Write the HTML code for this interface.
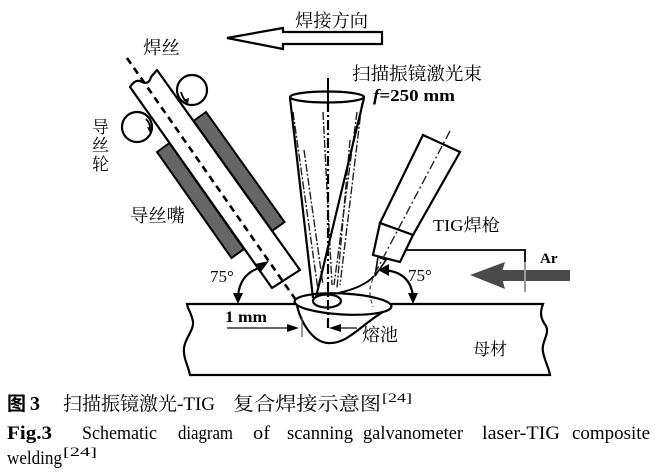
<!DOCTYPE html>
<html><head><meta charset="utf-8">
<style>
html,body{margin:0;padding:0;background:#fff;}
svg{display:block;}
</style></head>
<body>
<svg width="661" height="473" viewBox="0 0 661 473" xmlns="http://www.w3.org/2000/svg">
<rect x="0" y="0" width="661" height="473" fill="#fff"/>

<!-- welding direction arrow -->
<polygon points="227,38 283,28 283,32 382,32 382,44 283,44 283,49" fill="#fff" stroke="#000" stroke-width="2.2" stroke-linejoin="miter"/>
<text x="295" y="27" font-family="'Noto Serif CJK SC',serif" font-size="18" textLength="73" lengthAdjust="spacingAndGlyphs" fill="#000">焊接方向</text>

<!-- labels left -->
<text x="143" y="54" font-family="'Noto Serif CJK SC',serif" font-size="18" textLength="37" lengthAdjust="spacingAndGlyphs" fill="#000">焊丝</text>
<text x="92" y="133" font-family="'Noto Serif CJK SC',serif" font-size="17" fill="#000">导</text>
<text x="92" y="151" font-family="'Noto Serif CJK SC',serif" font-size="17" fill="#000">丝</text>
<text x="92" y="170" font-family="'Noto Serif CJK SC',serif" font-size="17" fill="#000">轮</text>
<text x="130" y="222" font-family="'Noto Serif CJK SC',serif" font-size="18" textLength="55" lengthAdjust="spacingAndGlyphs" fill="#000">导丝嘴</text>

<!-- grey nozzle blocks -->
<polygon points="157,152 169.5,143 244,249 231.5,258" fill="#666" stroke="#000" stroke-width="2"/>
<polygon points="193.5,121 206,112 284.5,222 272,231" fill="#666" stroke="#000" stroke-width="2"/>

<!-- wire tube -->
<path d="M130,87 Q136,78 142,82 Q149,85 151,77 L157,70 L300,270 L272,288 Z" fill="#fff" stroke="#000" stroke-width="2.2" stroke-linejoin="round"/>
<line x1="127" y1="58" x2="298" y2="303" stroke="#000" stroke-width="2.6" stroke-dasharray="7,5"/>

<!-- rollers -->
<circle cx="192" cy="90" r="15" fill="none" stroke="#000" stroke-width="2.2"/>
<circle cx="137" cy="127" r="15" fill="none" stroke="#000" stroke-width="2.2"/>
<path d="M181,92 Q183,99 187,102" fill="none" stroke="#000" stroke-width="1.8"/>
<polygon points="188,104 183,100 189,98" fill="#000"/>
<path d="M146,119 Q151,124 150,131" fill="none" stroke="#000" stroke-width="1.8"/>
<polygon points="150,133 147,127 153,128" fill="#000"/>

<!-- workpiece -->
<path d="M187,304 L543,304 C540,312 540,318 546,326 C550,334 541,342 543,352 C545,362 549,368 550,375 L190,375 C188,365 183,358 184,348 C185,338 194,330 193,322 C192,314 188,310 187,304 Z" fill="#fff" stroke="#000" stroke-width="2.2"/>

<!-- molten pool -->
<path d="M297,306 C301,322 312,342 328,343 C341,344 352,335 362,327 C372,319 382,312 391,307" fill="none" stroke="#000" stroke-width="2.2"/>
<ellipse cx="343" cy="304" rx="48.5" ry="10.5" transform="rotate(3 343 304)" fill="#fff" stroke="#000" stroke-width="2.2"/>

<!-- laser cone -->
<g stroke="#222" stroke-width="1.4" fill="none" stroke-dasharray="8,2,2,2">
<line x1="293" y1="112" x2="318" y2="290"/>
<line x1="304" y1="150" x2="323" y2="285"/>
<line x1="323" y1="112" x2="332" y2="285"/>
<line x1="357" y1="112" x2="334" y2="285"/>
<line x1="362" y1="103" x2="340" y2="285"/>
<line x1="350" y1="140" x2="337" y2="288"/>
</g>
<line x1="328" y1="78" x2="328" y2="102" stroke="#000" stroke-width="2"/>
<line x1="328" y1="102" x2="328" y2="331" stroke="#000" stroke-width="2.2" stroke-dasharray="10,3,2,3"/>
<line x1="290" y1="98" x2="313" y2="298" stroke="#000" stroke-width="2.2"/>
<line x1="364" y1="98" x2="316" y2="297" stroke="#000" stroke-width="2.2"/>
<ellipse cx="327" cy="97" rx="37" ry="5.5" fill="none" stroke="#000" stroke-width="2.2"/>
<ellipse cx="327" cy="301" rx="14" ry="6.5" fill="none" stroke="#000" stroke-width="2.2"/>

<text x="352" y="80" font-family="'Noto Serif CJK SC',serif" font-size="18" textLength="130" lengthAdjust="spacingAndGlyphs" fill="#000">扫描振镜激光束</text>
<text x="373" y="101" font-family="'Liberation Serif',serif" font-size="17" font-weight="bold" textLength="82" lengthAdjust="spacingAndGlyphs" fill="#000"><tspan font-style="italic">f</tspan>=250 mm</text>

<!-- TIG torch -->
<polygon points="423,135 460,152 413,235 380,223" fill="#fff" stroke="#000" stroke-width="2.2"/>
<polygon points="380,223 413,235 400,262 373,255" fill="#fff" stroke="#000" stroke-width="2.2"/>
<polygon points="378,257 386,260 375,276" fill="#fff" stroke="#000" stroke-width="1.6"/>
<line x1="450" y1="131" x2="373" y2="277" stroke="#222" stroke-width="1.4" stroke-dasharray="9,3,2,3"/>
<path d="M374,276 C366,285 352,290 338,293" fill="none" stroke="#000" stroke-width="1.8"/>
<path d="M373,279 C368,289 370,298 373,307" fill="none" stroke="#444" stroke-width="1.2" stroke-dasharray="4,3"/>
<text x="433" y="231" font-family="'Liberation Serif','Noto Serif CJK SC',serif" font-size="17" textLength="67" lengthAdjust="spacingAndGlyphs" fill="#000">TIG焊枪</text>

<!-- Ar supply -->
<polyline points="406,250 525,250 525,292" fill="none" stroke="#000" stroke-width="1.8"/>
<rect x="500" y="270" width="70" height="11" fill="#4a4a4a"/>
<polygon points="470,275 505,262 501,275 505,289" fill="#4a4a4a"/>
<line x1="525" y1="262" x2="525" y2="292" stroke="#bbb" stroke-width="1.5"/>
<text x="540" y="263" font-family="'Liberation Serif',serif" font-size="15" font-weight="bold" fill="#000">Ar</text>

<!-- left 75 deg -->
<path d="M262,267 Q240,273 238,296" fill="none" stroke="#000" stroke-width="2.2"/>
<polygon points="269,261 255,264 260,273" fill="#000"/>
<polygon points="238,304 233,293 243,293" fill="#000"/>
<text x="210" y="282" font-family="'Liberation Serif',serif" font-size="17" fill="#000">75°</text>

<!-- right 75 deg -->
<path d="M384,270 Q410,272 413,296" fill="none" stroke="#000" stroke-width="2.2"/>
<polygon points="378,270 389,264 389,276" fill="#000"/>
<polygon points="413,304 408,293 418,293" fill="#000"/>
<text x="408" y="281" font-family="'Liberation Serif',serif" font-size="17" fill="#000">75°</text>

<!-- 1 mm dimension -->
<line x1="227" y1="328" x2="292" y2="328" stroke="#333" stroke-width="1.5"/>
<polygon points="299,328 287,324 287,332" fill="#000"/>
<line x1="302" y1="317" x2="302" y2="337" stroke="#555" stroke-width="1.2"/>
<line x1="357" y1="328" x2="336" y2="328" stroke="#333" stroke-width="1.5"/>
<polygon points="329,328 341,324 341,332" fill="#000"/>
<text x="225" y="322" font-family="'Liberation Serif',serif" font-size="16" font-weight="bold" textLength="42" lengthAdjust="spacingAndGlyphs" fill="#000">1 mm</text>
<text x="362" y="341" font-family="'Noto Serif CJK SC',serif" font-size="18" textLength="36" lengthAdjust="spacingAndGlyphs" fill="#000">熔池</text>
<text x="473" y="355" font-family="'Noto Serif CJK SC',serif" font-size="17" textLength="34" lengthAdjust="spacingAndGlyphs" fill="#000">母材</text>

<!-- caption line 1 -->
<text x="7" y="410" font-family="'Noto Sans CJK SC',sans-serif" font-size="19" font-weight="bold" fill="#000">图</text>
<text x="30" y="410" font-family="'Liberation Serif',serif" font-size="20" font-weight="bold" fill="#000">3</text>
<text x="63" y="410" font-family="'Noto Serif CJK SC',serif" font-size="19" textLength="114" lengthAdjust="spacingAndGlyphs" fill="#000">扫描振镜激光</text>
<text x="177" y="410" font-family="'Liberation Serif',serif" font-size="19" textLength="38" lengthAdjust="spacingAndGlyphs" fill="#000">-TIG</text>
<text x="233" y="410" font-family="'Noto Serif CJK SC',serif" font-size="19" textLength="148" lengthAdjust="spacingAndGlyphs" fill="#000">复合焊接示意图</text>
<text x="382" y="402" font-family="'Liberation Serif',serif" font-size="13" textLength="30" lengthAdjust="spacingAndGlyphs" fill="#000">[24]</text>

<!-- caption line 2 -->
<g font-family="'Liberation Serif',serif" font-size="19" fill="#000">
<text x="7" y="439" font-weight="bold" textLength="45" lengthAdjust="spacingAndGlyphs">Fig.3</text>
<text x="82" y="439" textLength="75" lengthAdjust="spacingAndGlyphs">Schematic</text>
<text x="178" y="439" textLength="55" lengthAdjust="spacingAndGlyphs">diagram</text>
<text x="253" y="439" textLength="17" lengthAdjust="spacingAndGlyphs">of</text>
<text x="287" y="439" textLength="66" lengthAdjust="spacingAndGlyphs">scanning</text>
<text x="363" y="439" textLength="100" lengthAdjust="spacingAndGlyphs">galvanometer</text>
<text x="482" y="439" textLength="78" lengthAdjust="spacingAndGlyphs">laser-TIG</text>
<text x="572" y="439" textLength="78" lengthAdjust="spacingAndGlyphs">composite</text>
<text x="7" y="464" textLength="55" lengthAdjust="spacingAndGlyphs">welding</text>
<text x="63" y="456" font-size="13" textLength="34" lengthAdjust="spacingAndGlyphs">[24]</text>
</g>
</svg>
</body></html>
